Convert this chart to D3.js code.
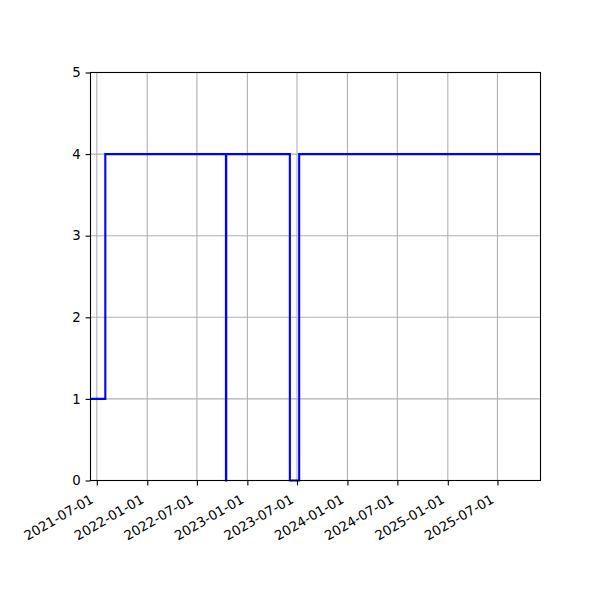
<!DOCTYPE html>
<html>
<head>
<meta charset="utf-8">
<script src="https://cdn.jsdelivr.net/npm/d3@7"></script>
<style>
  body { margin: 0; background: #fff; }
  svg { display: block; }
</style>
</head>
<body>
<svg id="chart" width="600" height="600"></svg>
<script>
// step series
let dates = ["2021-06-08", "2021-08-01", "2022-10-15", "2022-10-16", "2023-06-05", "2023-07-09", "2025-12-05"];
let values = [1, 4, 0, 4, 0, 4, 4];
let tickDates = ["2021-07-01", "2022-01-01", "2022-07-01", "2023-01-01", "2023-07-01",
  "2024-01-01", "2024-07-01", "2025-01-01", "2025-07-01"];
let yTicks = [0, 1, 2, 3, 4, 5];

let parse = d3.utcParse("%Y-%m-%d");
let fmt = d3.utcFormat("%Y-%m-%d");

let plotLeft = 90.5, plotRight = 540.5, plotTop = 72.5, plotBottom = 480.5;
let fontFamily = "DejaVu Sans, sans-serif";
let fontSize = 13.3;

let svg = d3.select("#chart");

let x = d3.scaleUtc()
  .domain([parse(dates[0]), parse(dates[dates.length - 1])])
  .range([plotLeft, plotRight]);
let y = d3.scaleLinear().domain([0, 5]).range([plotBottom, plotTop]);

let data = dates.map((d, i) => ({ date: parse(d), value: values[i] }));

// grid
let grid = svg.append("g").attr("stroke", "#b0b0b0").attr("stroke-width", 1.1);
grid.selectAll("line.v")
  .data(tickDates.map(parse))
  .join("line")
  .attr("class", "v")
  .attr("x1", (d) => x(d)).attr("x2", (d) => x(d))
  .attr("y1", plotTop).attr("y2", plotBottom);
grid.selectAll("line.h")
  .data(yTicks)
  .join("line")
  .attr("class", "h")
  .attr("x1", plotLeft).attr("x2", plotRight)
  .attr("y1", (d) => y(d)).attr("y2", (d) => y(d));

// line
let line = d3.line()
  .x((d) => x(d.date))
  .y((d) => y(d.value))
  .curve(d3.curveStepAfter);

svg.append("path")
  .datum(data)
  .attr("d", line)
  .attr("fill", "none")
  .attr("stroke", "#0000ff")
  .attr("stroke-width", 2.1);

// axes
let xAxis = svg.append("g")
  .attr("transform", `translate(0,${plotBottom})`)
  .call(d3.axisBottom(x).tickValues(tickDates.map(parse)).tickFormat(fmt)
    .tickSize(4.9).tickSizeOuter(0))
  .attr("font-family", fontFamily)
  .attr("font-size", fontSize);
xAxis.select(".domain").remove();
xAxis.selectAll(".tick line").attr("stroke", "#000").attr("stroke-width", 1.1);
xAxis.selectAll(".tick text")
  .attr("fill", "#000")
  .attr("text-anchor", "end")
  .attr("y", 0).attr("dy", 0)
  .attr("transform", "translate(-3,21.5) rotate(-30)");

let yAxis = svg.append("g")
  .attr("transform", `translate(${plotLeft},0)`)
  .call(d3.axisLeft(y).tickValues(yTicks).tickFormat(d3.format("d"))
    .tickSize(4.9).tickPadding(4.9).tickSizeOuter(0))
  .attr("font-family", fontFamily)
  .attr("font-size", fontSize);
yAxis.select(".domain").remove();
yAxis.selectAll(".tick line").attr("stroke", "#000").attr("stroke-width", 1.1);
yAxis.selectAll(".tick text").attr("fill", "#000");

// frame
svg.append("rect")
  .attr("x", plotLeft).attr("y", plotTop)
  .attr("width", plotRight - plotLeft).attr("height", plotBottom - plotTop)
  .attr("fill", "none")
  .attr("stroke", "#000")
  .attr("stroke-width", 1.1);
</script>
</body>
</html>
